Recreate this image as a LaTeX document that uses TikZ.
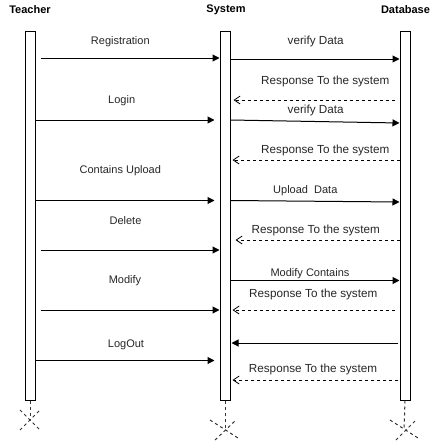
\documentclass[tikz,border=0pt]{standalone}
\usepackage{fontspec}
\setmainfont{Liberation Sans}
\usetikzlibrary{arrows.meta,calc}
\begin{document}
\begin{tikzpicture}[x=1pt,y=-1pt,
  font=\fontsize{11}{13}\selectfont,
  bar/.style={draw,line width=1pt,fill=white,minimum width=10pt,minimum height=369pt,inner sep=0pt},
  head/.style={font=\fontsize{11}{13}\selectfont\bfseries,inner sep=0pt},
  lbl/.style={inner sep=0pt,text=black!85},
  wlbl/.style={lbl,font=\fontsize{11.7}{13}\selectfont},
  msg/.style={line width=1pt,-{Triangle[length=7pt,width=7pt]}},
  ret/.style={line width=1pt,dash pattern=on 3pt off 3pt,-{Straight Barb[length=6pt,width=8pt,line width=0.8pt]}},
  life/.style={line width=1pt,dash pattern=on 3pt off 3pt,black!80},
]
\useasboundingbox (0,0) rectangle (441,442);
% lifelines
\node[head] (Th) at (30,10) {Teacher};
\node[head] (Sh) at (226,10) {System};
\node[head] (Dh) at (405.5,10) {Database};
\node[bar] (T) at (30,215.5) {};
\node[bar] (S) at (225,215.5) {};
\node[bar] (D) at (405,215.5) {};
% destruction markers
\coordinate (Tx) at (30,420);
\coordinate (Sx) at (225,430);
\coordinate (Dx) at (404,430);
\draw[life] (T.south) -- (Tx);
\draw[life] (S.south) -- (Sx);
\draw[life] (D.south) -- (Dx);
\draw[life] ($(Tx)+(-10,-10)$) -- ($(Tx)+(10,10)$);
\draw[life] ($(Tx)+(-10,10)$) -- ($(Tx)+(10,-10)$);
\draw[life] ($(Sx)+(-15,-10)$) -- ($(Sx)+(13,8)$);
\draw[life] ($(Sx)+(-10,10)$) -- ($(Sx)+(10,-9)$);
\draw[life] ($(Dx)+(-14,-10)$) -- ($(Dx)+(14,8)$);
\draw[life] ($(Dx)+(-8,10)$) -- ($(Dx)+(11,-9)$);
% message levels
\coordinate (y1) at (0,58);
\coordinate (y2) at (0,59);
\coordinate (y3) at (0,100);
\coordinate (y4) at (0,120);
\coordinate (y5a) at (0,120);
\coordinate (y5b) at (0,123);
\coordinate (y6) at (0,160);
\coordinate (y7) at (0,200.5);
\coordinate (y8a) at (0,200.5);
\coordinate (y8b) at (0,202);
\coordinate (y9) at (0,240);
\coordinate (y10) at (0,250);
\coordinate (y11) at (0,280.5);
\coordinate (y12) at (0,310);
\coordinate (y13) at (0,310);
\coordinate (y14) at (0,343);
\coordinate (y15) at (0,360.5);
\coordinate (y16) at (0,380);
% messages
\draw[msg] ([xshift=5pt]T.east |- y1) -- (S.west |- y1);
\draw[msg] (S.east |- y2) -- (D.west |- y2);
\draw[ret] ([xshift=-5pt]D.west |- y3) -- ([xshift=3pt]S.east |- y3);
\draw[msg] (T.east |- y4) -- ([xshift=-5pt]S.west |- y4);
\draw[msg] (S.east |- y5a) -- (D.west |- y5b);
\draw[ret] (D.west |- y6) -- ([xshift=2pt]S.east |- y6);
\draw[msg] (T.east |- y7) -- ([xshift=-5pt]S.west |- y7);
\draw[msg] (S.east |- y8a) -- (D.west |- y8b);
\draw[ret] (D.west |- y9) -- ([xshift=5pt]S.east |- y9);
\draw[msg] ([xshift=5pt]T.east |- y10) -- (S.west |- y10);
\draw[msg] (S.east |- y11) -- (D.west |- y11);
\draw[ret] ([xshift=-5pt]D.west |- y12) -- ([xshift=2pt]S.east |- y12);
\draw[msg] ([xshift=5pt]T.east |- y13) -- (S.west |- y13);
\draw[msg] ([xshift=-2pt]D.west |- y14) -- ([xshift=1pt]S.east |- y14);
\draw[msg] (T.east |- y15) -- ([xshift=-5pt]S.west |- y15);
\draw[ret] ([xshift=-2pt]D.west |- y16) -- ([xshift=2pt]S.east |- y16);
% labels
\node[lbl] (l1) at (120.3,41.7) {Registration};
\node[wlbl] (l2) at (315.7,41.7) {verify Data};
\node[wlbl] (l3) at (325.3,81) {Response To the system};
\node[lbl] (l4) at (121.7,100.7) {Login};
\node[wlbl] (l5) at (315.7,110) {verify Data};
\node[wlbl] (l6) at (325.3,150) {Response To the system};
\node[lbl] (l7) at (120.3,171) {Contains Upload};
\node[lbl] (l8) at (305.3,190.7) {Upload\ \ Data};
\node[wlbl] (l9) at (315.8,230) {Response To the system};
\node[lbl] (l10) at (125.5,221) {Delete};
\node[lbl] (l11) at (310,274) {Modify Contains};
\node[wlbl] (l12) at (313.3,294) {Response To the system};
\node[lbl] (l13) at (125,281) {Modify};
\node[lbl] (l15) at (126,345) {LogOut};
\node[wlbl] (l16) at (313,369) {Response To the system};
\end{tikzpicture}
\end{document}
